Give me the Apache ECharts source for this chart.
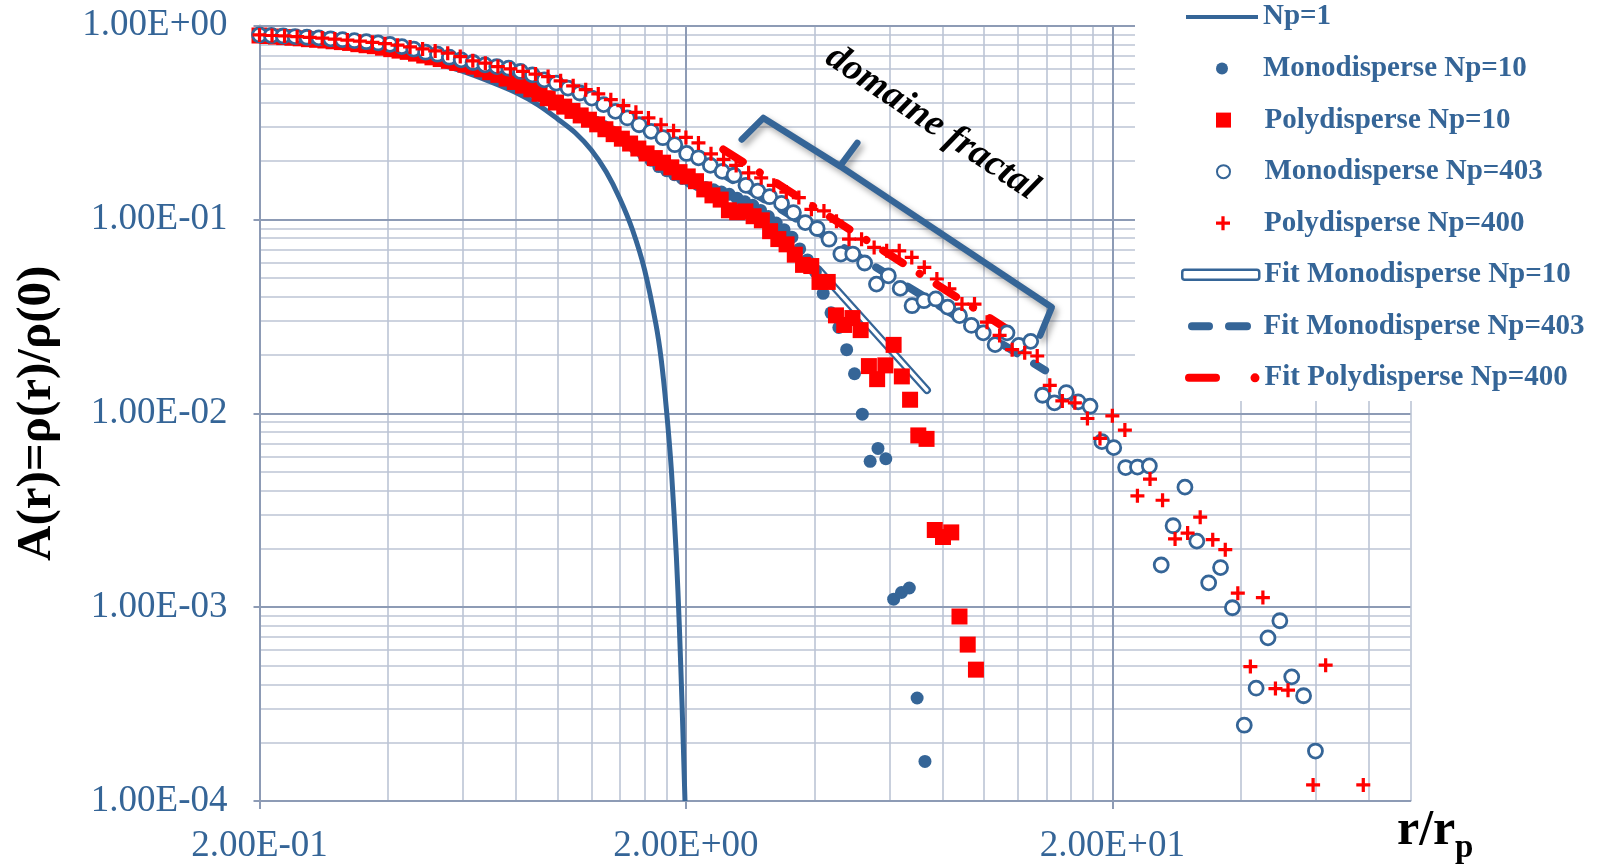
<!DOCTYPE html>
<html><head><meta charset="utf-8">
<script src="https://cdn.jsdelivr.net/npm/echarts@6/dist/echarts.min.js"></script>
<style>html,body{margin:0;padding:0;background:#fff}#c{width:1606px;height:865px}</style>
</head><body><div id="c"></div>
<script>
// ---------------- data ----------------
const np1X = [0.2,0.3,0.4,0.5,0.6,0.7,0.8,0.9,1.0,1.1,1.2,1.3,1.4,1.5,1.6,1.7,1.75,1.8,1.85,1.9,1.93,1.96,1.99];
const np1Y = [0.86,0.80,0.73,0.655,0.58,0.51,0.45,0.39,0.33,0.28,0.228,0.176,0.128,0.088,0.055,0.029,0.019,0.0105,0.005,0.0018,0.0008,0.0003,0.0001];

const mono10X = [0.2,0.2086,0.2176,0.2271,0.2369,0.2471,0.2578,0.2689,0.2805,0.2926,
 0.3053,0.3185,0.3322,0.3466,0.3615,0.3771,0.3934,0.4104,0.4281,0.4466,
 0.4659,0.486,0.507,0.5289,0.5517,0.5755,0.6004,0.6263,0.6533,0.6815,
 0.711,0.7417,0.7737,0.8071,0.842,0.8783,0.9162,0.9558,0.9971,1.0401,
 1.085,1.1319,1.1808,1.2317,1.2849,1.3404,1.3983,1.4587,1.5216,1.5874,
 1.6559,1.7274,1.802,1.8798,1.961,2.0457,2.134,2.2261,2.3222,2.4225,
 2.5271,2.6362,2.7501,2.8688,2.9927,3.1219,3.2567,3.3973,3.544,3.697,
 3.8567,4.0232,4.1969,4.3781,4.5672,4.7644,4.9701,5.1847,5.4086,5.6421,
 5.8857,6.1398,6.4049,6.6815,6.97,7.2709];
const mono10Y = [0.884,0.878,0.872,0.866,0.860,0.855,0.847,0.840,0.834,0.827,
 0.820,0.813,0.801,0.791,0.780,0.769,0.759,0.749,0.739,0.723,
 0.709,0.693,0.678,0.666,0.651,0.636,0.621,0.608,0.593,0.573,
 0.552,0.532,0.513,0.494,0.473,0.453,0.433,0.415,0.397,0.379,
 0.363,0.347,0.332,0.317,0.302,0.283,0.265,0.248,0.2327,0.2174,
 0.202,0.1874,0.1783,0.1701,0.1627,0.1569,0.1513,0.1462,0.1422,0.1384,
 0.1347,0.1288,0.1234,0.1183,0.1113,0.1035,0.0959,0.0886,0.081,0.0705,
 0.0618,0.0538,0.0416,0.033,0.0277,0.0213,0.016,0.0099,0.00565,0.00659,
 0.00583,0.0011,0.00119,0.001255,0.00034,0.00016];

const poly10X = [0.2,0.2091,0.2186,0.2285,0.2389,0.2498,0.2612,0.273,0.2855,0.2984,
 0.312,0.3262,0.341,0.3565,0.3728,0.3897,0.4074,0.426,0.4453,0.4656,
 0.4868,0.5089,0.5321,0.5563,0.5815,0.608,0.6356,0.6645,0.6948,0.7264,
 0.7594,0.7939,0.83,0.8678,0.9072,0.9485,0.9916,1.0367,1.0838,1.1331,
 1.1846,1.2385,1.2948,1.3537,1.4152,1.4796,1.5469,1.6172,1.6907,1.7676,
 1.848,1.932,2.0198,2.1117,2.2077,2.3081,2.413,2.5227,2.6374,2.7573,
 2.8827,3.0138,3.1508,3.294,3.4438,3.6004,3.7641,3.9353,4.1142,4.3013,
 4.4968,4.7013,4.915,5.1385,5.3721,5.6164,5.8717,6.1387,6.4178,6.7096,
 7.0147,7.3336,7.6671,8.0156,8.3801,8.7611,9.1594,9.5759];
const poly10Y = [0.889,0.884,0.878,0.872,0.866,0.860,0.851,0.845,0.838,0.830,
 0.822,0.814,0.802,0.792,0.783,0.769,0.756,0.743,0.732,0.717,
 0.701,0.686,0.672,0.658,0.642,0.629,0.614,0.595,0.575,0.557,
 0.533,0.512,0.490,0.469,0.445,0.422,0.401,0.382,0.363,0.344,
 0.327,0.3095,0.292,0.2754,0.261,0.2464,0.2322,0.2191,0.2073,0.1963,
 0.1857,0.1754,0.1667,0.1575,0.1429,0.1331,0.1266,0.1115,0.109,0.110,
 0.1039,0.099,0.087,0.0792,0.0744,0.0658,0.0583,0.0575,0.0476,0.0476,
 0.032,0.02856,0.031,0.02686,0.01752,0.015,0.01767,0.02254,0.0155,0.01175,
 0.00769,0.00738,0.0025,0.0023,0.00243,0.000895,0.000641,0.000476];

const mono403X = [0.2,0.2132,0.2273,0.2424,0.2584,0.2755,0.2937,0.3132,0.3339,0.356,
 0.3795,0.4046,0.4314,0.46,0.4904,0.5229,0.5575,0.5943,0.6337,0.6756,
 0.7203,0.768,0.8188,0.8729,0.9307,0.9923,1.058,1.128,1.2026,1.2822,
 1.367,1.4575,1.5539,1.6567,1.7663,1.8832,2.0078,2.1406,2.2823,2.4333,
 2.5943,2.7659,2.9489,3.144,3.352,3.5738,3.8102,4.0623,4.3311,4.6176,
 4.9231,5.2489,5.5961,5.9664,6.3611,6.782,7.2307,7.7091,8.2191,8.7629,
 9.3427,9.9608,10.62,11.322,12.071,12.87,13.722,14.63,15.598,16.63,
 17.73,18.903,20.153,21.487,22.908,24.424,26.04,27.763,29.599,31.558,
 33.646,35.872,38.245,40.775,43.473,46.349,49.416,52.685,56.171,59.887];
const mono403Y = [0.895,0.889,0.884,0.878,0.871,0.864,0.855,0.846,0.836,0.826,
 0.814,0.800,0.779,0.756,0.729,0.712,0.687,0.666,0.645,0.627,
 0.615,0.603,0.580,0.557,0.525,0.505,0.476,0.449,0.423,0.391,
 0.361,0.334,0.308,0.285,0.264,0.243,0.219,0.208,0.190,0.177,
 0.169,0.150,0.140,0.131,0.121,0.1085,0.0964,0.0898,0.0791,0.0663,
 0.0663,0.0596,0.0464,0.0512,0.0441,0.0359,0.0381,0.0389,0.0353,0.0319,
 0.0284,0.026,0.0226,0.026,0.0224,0.0235,0.01239,0.01132,0.01279,0.01146,
 0.01088,0.00714,0.00665,0.00525,0.00528,0.00535,0.00165,0.00263,0.00416,0.00219,
 0.001335,0.0016,0.000993,0.000246,0.000382,0.000694,0.000851,0.000437,0.000349,0.000181];

const poly400X = [0.2,0.214,0.229,0.2451,0.2623,0.2806,0.3003,0.3214,0.3439,0.368,
 0.3938,0.4214,0.4509,0.4825,0.5164,0.5526,0.5913,0.6328,0.6771,0.7246,
 0.7754,0.8297,0.8879,0.9501,1.0167,1.088,1.1643,1.2459,1.3332,1.4267,
 1.5267,1.6337,1.7482,1.8708,2.0,2.14,2.29,2.451,2.623,2.806,
 3.003,3.214,3.439,3.68,3.938,4.214,4.509,4.825,5.164,5.526,
 5.913,6.328,6.771,7.246,7.754,8.297,8.879,9.501,10.167,10.88,
 11.643,12.459,13.332,14.267,15.267,16.337,17.482,18.708,20.0,21.4,
 22.9,24.51,26.23,28.06,30.03,32.14,34.39,36.8,39.38,42.14,
 45.09,48.25,51.64,59.13,63.28,77.54];
const poly400Y = [0.895,0.889,0.884,0.877,0.870,0.862,0.852,0.842,0.831,0.820,
 0.807,0.793,0.776,0.758,0.740,0.721,0.692,0.658,0.640,0.615,
 0.598,0.580,0.562,0.546,0.519,0.489,0.467,0.444,0.415,0.386,
 0.357,0.334,0.308,0.287,0.265,0.248,0.218,0.204,0.190,0.174,
 0.164,0.150,0.1384,0.1296,0.1128,0.1106,0.0979,0.0791,0.0791,0.0717,
 0.0689,0.0689,0.0637,0.0566,0.0493,0.0438,0.0366,0.0366,0.0295,0.0252,
 0.02128,0.02053,0.01975,0.01394,0.01159,0.01132,0.0094,0.00742,0.00971,0.00819,
 0.00375,0.00458,0.00356,0.00225,0.00241,0.00291,0.00223,0.00198,0.00118,0.000494,
 0.00112,0.00038,0.000373,0.000121,0.000502,0.000121];

const fitMono10X = [4.08, 7.35];
const fitMono10Y = [0.0555, 0.01318];
const fitMono403X = [2.38, 13.91];
const fitMono403Y = [0.1775, 0.01666];
const fitPoly400X = [2.448, 12.49];
const fitPoly400Y = [0.2295, 0.02375];

// annotation brace ("domaine fractal") in data coordinates
const braceX = [2.704, 3.038, 4.596, 5.046, 4.596, 14.42, 13.54];
const braceY = [0.2583, 0.3339, 0.1884, 0.2484, 0.1884, 0.03526, 0.02519];

const xMajorTicks = [0.2, 2, 20];
const xMinorTicks = [0.4,0.6,0.8,1,1.2,1.4,1.6,1.8,4,6,8,10,12,14,16,18,40,60,80,100];
const yMajorTicks = [0.0001, 0.001, 0.01, 0.1, 1];
const yMinorTicks = [0.0002,0.0003,0.0004,0.0005,0.0006,0.0007,0.0008,0.0009,
 0.002,0.003,0.004,0.005,0.006,0.007,0.008,0.009,
 0.02,0.03,0.04,0.05,0.06,0.07,0.08,0.09,
 0.2,0.3,0.4,0.5,0.6,0.7,0.8,0.9];

const seriesNames = ['Np=1','Monodisperse Np=10','Polydisperse Np=10','Monodisperse Np=403',
 'Polydisperse Np=400','Fit Monodisperse Np=10','Fit Monodisperse Np=403','Fit Polydisperse Np=400'];

// ---------------- styling ----------------
const BLUE = '#356597';
const RED = '#ff0000';
const G_MAJOR = '#8d9bb5';
const G_MINOR = '#bcc5d5';
const SERIF = '"Liberation Serif", "Times New Roman", serif';
const PLUS = 'path://M5,0H8V5H13V8H8V13H5V8H0V5H5Z';
const SQUARE = 'path://M0,0H10V10H0Z';

const zip = (xs, ys) => xs.map((x, i) => [x, ys[i]]);
function fmtE(v) {
  const e = Math.floor(Math.log10(v) + 1e-9);
  const m = v / Math.pow(10, e);
  return m.toFixed(2) + 'E' + (e < 0 ? '-' : '+') + String(Math.abs(e)).padStart(2, '0');
}

const chart = echarts.init(document.getElementById('c'), null, {renderer: 'canvas'});

const legendText = {fontFamily: SERIF, fontWeight: 'bold', fontSize: 29, color: BLUE, lineHeight: 30};
function lg(name, top, opts) {
  return Object.assign({
    orient: 'vertical', left: 1186, top: top, padding: 0, itemWidth: 72, itemHeight: 12,
    selectedMode: false, textStyle: legendText, data: [name]
  }, opts);
}
const ROW0 = 2, ROWH = 51.55;

const option = {
  animation: false,
  backgroundColor: '#fff',
  grid: {left: 259.5, top: 25.6, right: 195.6, bottom: 61, containLabel: false},
  legend: [
    lg(seriesNames[0], ROW0, {itemHeight: 4, data: [{name: seriesNames[0], icon: 'rect'}]}),
    lg(seriesNames[1], ROW0 + ROWH, {left: 1216, itemHeight: 12, data: [{name: seriesNames[1], icon: 'circle'}]}),
    lg(seriesNames[2], ROW0 + 2 * ROWH, {left: 1216, itemHeight: 15, data: [{name: seriesNames[2], icon: SQUARE}]}),
    lg(seriesNames[3], ROW0 + 3 * ROWH, {left: 1216, itemHeight: 13, data: [{name: seriesNames[3], icon: 'circle'}]}),
    lg(seriesNames[4], ROW0 + 4 * ROWH, {left: 1216, itemHeight: 14, data: [{name: seriesNames[4], icon: PLUS}]}),
    lg(seriesNames[5], ROW0 + 5 * ROWH, {left: 1181, itemWidth: 77, itemHeight: 10,
      data: [{name: seriesNames[5], icon: 'roundRect', itemStyle: {color: '#fff', borderColor: BLUE, borderWidth: 2.5}}]}),
    lg(seriesNames[6], ROW0 + 6 * ROWH, {left: 1188, itemWidth: 78, itemHeight: 8,
      data: [{name: seriesNames[6], icon: 'path://M4,0H21A4,4,0,0,1,21,8H4A4,4,0,0,1,4,0Z M41,0H59A4,4,0,0,1,59,8H41A4,4,0,0,1,41,0Z'}]}),
    lg(seriesNames[7], ROW0 + 7 * ROWH, {left: 1185, itemWidth: 74.5, itemHeight: 9,
      data: [{name: seriesNames[7], icon: 'path://M4,0.5H31A4,4,0,0,1,31,8.5H4A4,4,0,0,1,4,0.5Z M65.5,4.5A4.5,4.5,0,1,1,74.5,4.5A4.5,4.5,0,1,1,65.5,4.5Z'}]})
  ],
  xAxis: [
    {type: 'log', logBase: 10, min: 0.2, max: 100, z: 1,
     axisLine: {show: true, lineStyle: {color: G_MAJOR, width: 2}},
     axisTick: {show: true, customValues: xMajorTicks, length: 8, lineStyle: {color: G_MAJOR, width: 2}},
     axisLabel: {customValues: xMajorTicks, formatter: fmtE, fontFamily: SERIF, fontSize: 37, color: BLUE, margin: 27},
     splitLine: {show: true, lineStyle: {color: G_MAJOR, width: 2}}},
    {type: 'log', logBase: 10, min: 0.2, max: 100, z: 0, position: 'bottom',
     axisLine: {show: false}, axisLabel: {show: false},
     axisTick: {show: false, customValues: xMinorTicks},
     splitLine: {show: true, lineStyle: {color: G_MINOR, width: 1.6}}}
  ],
  yAxis: [
    {type: 'log', logBase: 10, min: 0.0001, max: 1, z: 1,
     name: 'A(r)=ρ(r)/ρ(0)', nameLocation: 'middle', nameGap: 198,
     nameTextStyle: {fontFamily: SERIF, fontWeight: 'bold', fontSize: 49, color: '#000'},
     axisLine: {show: true, lineStyle: {color: G_MAJOR, width: 2}},
     axisTick: {show: true, customValues: yMajorTicks, length: 6, lineStyle: {color: G_MAJOR, width: 2}},
     axisLabel: {customValues: yMajorTicks, formatter: fmtE, fontFamily: SERIF, fontSize: 37, color: BLUE, margin: 32},
     splitLine: {show: true, lineStyle: {color: G_MAJOR, width: 2}}},
    {type: 'log', logBase: 10, min: 0.0001, max: 1, z: 0, position: 'left',
     axisLine: {show: false}, axisLabel: {show: false},
     axisTick: {show: false, customValues: yMinorTicks},
     splitLine: {show: true, lineStyle: {color: G_MINOR, width: 1.6}}}
  ],
  graphic: [
    {type: 'rect', shape: {x: 1135, y: 0, width: 471, height: 401}, style: {fill: '#fff'}, z: 1.5, silent: true},
    {type: 'text', x: 932, y: 123, rotation: -34 * Math.PI / 180, z: 10, silent: true,
     style: {text: 'domaine fractal', fontFamily: SERIF, fontStyle: 'italic', fontWeight: 'bold', fontSize: 38,
             fill: '#000', align: 'center', verticalAlign: 'middle'}},
    {type: 'text', x: 1397, y: 831, z: 10, silent: true,
     style: {text: 'r/r', fontFamily: SERIF, fontWeight: 'bold', fontSize: 50, fill: '#000', align: 'left', verticalAlign: 'middle'}},
    {type: 'text', x: 1455, y: 848, z: 10, silent: true,
     style: {text: 'p', fontFamily: SERIF, fontWeight: 'bold', fontSize: 33, fill: '#000', align: 'left', verticalAlign: 'middle'}}
  ],
  series: [
    {name: seriesNames[0], type: 'line', data: zip(np1X, np1Y), symbol: 'none', showSymbol: false, smooth: 0.3, z: 2,
     itemStyle: {color: BLUE}, lineStyle: {color: BLUE, width: 5}},
    {name: seriesNames[5], type: 'line', data: zip(fitMono10X, fitMono10Y), symbol: 'none', z: 2,
     itemStyle: {color: BLUE}, lineStyle: {color: BLUE, width: 8, cap: 'round'}},
    {name: 'fitMono10Inner', type: 'line', data: zip(fitMono10X, fitMono10Y), symbol: 'none', z: 2,
     itemStyle: {color: '#fff'}, lineStyle: {color: '#fff', width: 3.5, cap: 'round'}},
    {name: seriesNames[6], type: 'line', data: zip(fitMono403X, fitMono403Y), symbol: 'none', z: 2,
     itemStyle: {color: BLUE}, lineStyle: {color: BLUE, width: 8, type: [17, 20], cap: 'round'}},
    {name: seriesNames[7], type: 'line', data: zip(fitPoly400X, fitPoly400Y), symbol: 'none', z: 2,
     itemStyle: {color: RED}, lineStyle: {color: RED, width: 8, type: [23, 20, 0.1, 20], cap: 'round'}},
    {name: 'brace', type: 'line', data: zip(braceX, braceY), symbol: 'none', z: 2,
     lineStyle: {color: BLUE, width: 6.5, cap: 'round', join: 'round',
                 shadowColor: 'rgba(0,0,0,0.35)', shadowBlur: 6, shadowOffsetX: 3, shadowOffsetY: 4}},
    {name: seriesNames[1], type: 'scatter', data: zip(mono10X, mono10Y), symbol: 'circle', symbolSize: 13, z: 3,
     itemStyle: {color: BLUE, opacity: 1}},
    {name: seriesNames[2], type: 'scatter', data: zip(poly10X, poly10Y), symbol: 'rect', symbolSize: 16, z: 3,
     itemStyle: {color: RED, opacity: 1}},
    {name: seriesNames[3], type: 'scatter', data: zip(mono403X, mono403Y), symbol: 'circle', symbolSize: 14, z: 3,
     itemStyle: {color: '#fff', borderColor: BLUE, borderWidth: 2.8, opacity: 1}},
    {name: seriesNames[4], type: 'scatter', data: zip(poly400X, poly400Y), symbol: PLUS, symbolSize: 14, z: 3,
     itemStyle: {color: RED, opacity: 1}}
  ]
};
chart.setOption(option);
</script></body></html>
